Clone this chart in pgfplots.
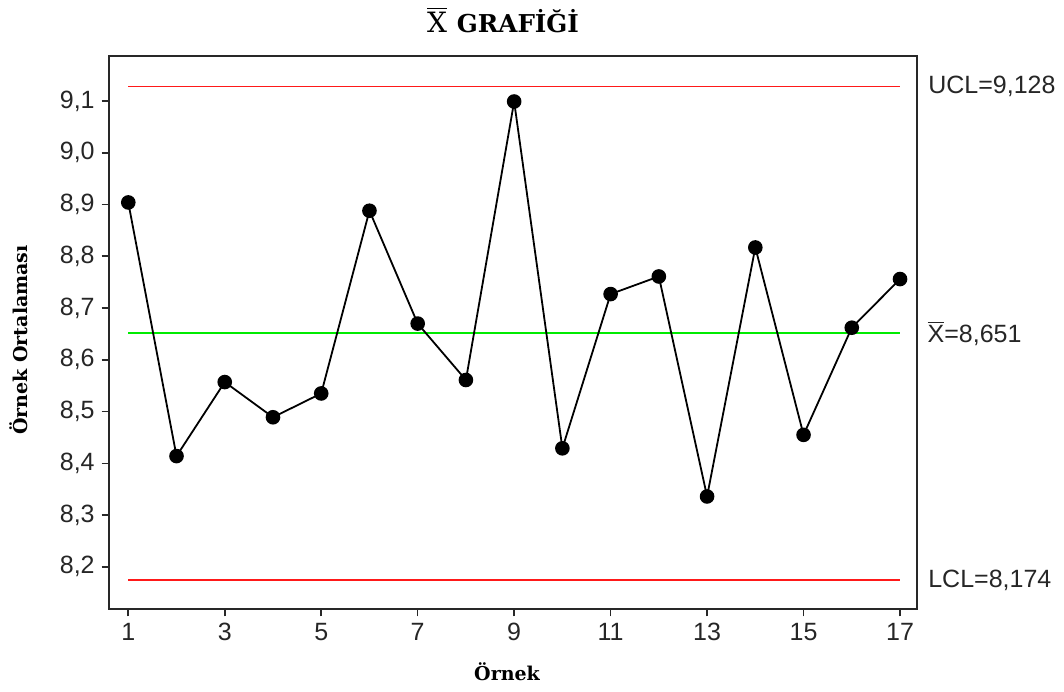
\documentclass[border=0pt]{standalone}
\usepackage{pgfplots}
\pgfplotsset{compat=1.18}
\usepackage{fontspec}
\setmainfont{Liberation Sans}
\newfontfamily\labelfont{DejaVu Serif}

\definecolor{framegray}{RGB}{40,40,40}
\definecolor{limitred}{RGB}{255,25,25}
\definecolor{centregreen}{RGB}{0,235,0}

\begin{document}
\begin{tikzpicture}
% page frame
\path[use as bounding box] (-54.35pt,-40.85pt) rectangle (477.65pt,304.65pt);
\begin{axis}[
  at={(0,0)}, anchor=south west,
  scale only axis, width=404pt, height=276.8pt,
  xmin=0.594, xmax=17.346, ymin=8.118, ymax=9.1875,
  axis line style={framegray, line width=0.9pt},
  tick style={framegray, line width=0.8pt},
  tick pos=left, tick align=outside, major tick length=3.5pt,
  xtick={1,3,...,17},
  ytick={8.2,8.3,...,9.15},
  /pgf/number format/assume math mode=true,
  yticklabel style={/pgf/number format/.cd, use comma, fixed, fixed zerofill, precision=1},
  ticklabel style={font=\fontsize{12.5}{13}\selectfont, text=black!85},
  every axis title/.style={at={(axis description cs:0.488,1)}, anchor=center, yshift=17.85pt},
  title={{\labelfont\fontsize{14}{14}\selectfont$\overline{\mbox{X}}$}\hspace{0.5em}{\labelfont\bfseries\fontsize{12.3}{13}\selectfont GRAFİĞİ}},
  every axis x label/.style={at={(axis description cs:0.493,-0.1133)}, anchor=center},
  every axis y label/.style={at={(axis description cs:-0.111,0.4865)}, anchor=center, rotate=90},
  xlabel={\labelfont\bfseries\fontsize{9.5}{10}\selectfont Örnek},
  ylabel={\labelfont\bfseries\fontsize{9.5}{10}\selectfont Örnek Ortalaması},
  clip=false,
]
% control limits and centre line
\addplot[limitred, line width=0.95pt, forget plot] coordinates {(1,9.128) (17,9.128)};
\addplot[limitred, line width=0.95pt, forget plot] coordinates {(1,8.174) (17,8.174)};
\addplot[centregreen, line width=1pt, forget plot] coordinates {(1,8.651) (17,8.651)};

% subgroup means
\addplot[color=black, line width=0.9pt, mark=*, mark size=3.2pt, mark options={solid, fill=black}] coordinates {
  (1,8.904) (2,8.414) (3,8.557) (4,8.489) (5,8.535) (6,8.888) (7,8.670)
  (8,8.561) (9,9.099) (10,8.429) (11,8.727) (12,8.761) (13,8.336)
  (14,8.817) (15,8.455) (16,8.662) (17,8.756)
};

% limit labels on the right
\node[anchor=west, inner sep=0pt, xshift=5.6pt, font=\fontsize{12.5}{13}\selectfont, text=black!85] at (axis cs:17.346,9.128) {UCL=9,128};
\node[anchor=west, inner sep=0pt, xshift=5.3pt, font=\fontsize{12.5}{13}\selectfont, text=black!85] at (axis cs:17.346,8.651) {$\overline{\mbox{X}}$=8,651};
\node[anchor=west, inner sep=0pt, xshift=5.6pt, font=\fontsize{12.5}{13}\selectfont, text=black!85] at (axis cs:17.346,8.174) {LCL=8,174};
\end{axis}
\end{tikzpicture}
\end{document}
